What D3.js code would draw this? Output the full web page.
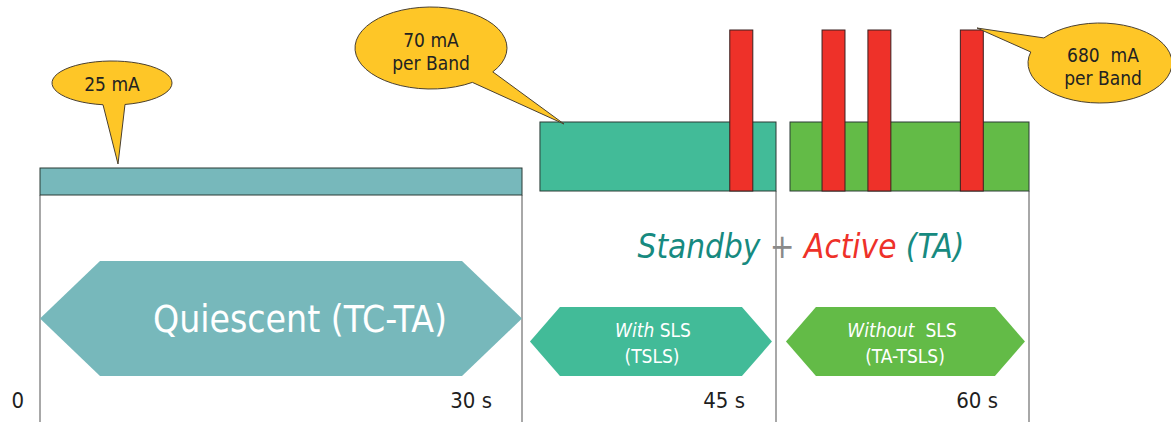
<!DOCTYPE html>
<html>
<head>
<meta charset="utf-8">
<script src="https://cdn.jsdelivr.net/npm/d3@7"></script>
<style>
  body { margin: 0; background: #fff; }
  svg { display: block; }
  text { font-family: "DejaVu Sans Condensed", "DejaVu Sans", sans-serif; font-stretch: condensed; }
</style>
</head>
<body>
<script>
var width  = 1171,
	height = 422;

// time marks (s) and their labels
var tickTimes  = [0, 30, 45, 60],
	tickLabels = ["0", "30 s", "45 s", "60 s"];

// current level bars (start s, end s, mA)
var barNames  = ["quiescent", "standby", "active"],
	barStart  = [0, 31.06, 45.83],
	barEnd    = [30, 45, 60],
	barLevel  = [25, 70, 70],
	barColors = ["#77b8bb", "#42bb98", "#63bb47"];

// transmit pulses, 680 mA per band
var pulseStart = [42.27, 47.73, 50.45, 55.93],
	pulseWidth = 1.36,
	pulseLevel = 680;

// phase arrows
var phaseStart = [0, 30.47, 45.59],
	phaseEnd   = [30, 44.76, 59.76],
	phaseColors = ["#77b8bb", "#42bb98", "#63bb47"];

// callouts
var calloutText  = [["25 mA"], ["70 mA", "per Band"], ["680\u00a0\u00a0mA", "per Band"]];

var svg = d3.select("body")
	.append("svg")
	.attr("width", width)
	.attr("height", height);

var x = d3.scaleLinear()
	.domain([0, 30, 45, 60])
	.range([40, 522, 776, 1029]);

var y = d3.scaleLinear()
	.domain([0, 25, 70, 680])
	.range([191, 168, 122, 30]);

// vertical guide lines
svg.selectAll("line.guide")
	.data(tickTimes)
	.enter().append("line")
	.attr("class", "guide")
	.attr("x1", function(d) { return x(d); })
	.attr("x2", function(d) { return x(d); })
	.attr("y1", function(d, i) { return i < 2 ? 195 : 191; })
	.attr("y2", height)
	.style("stroke", "#6e6e6e")
	.style("stroke-width", 1.2);

// level bars
svg.selectAll("rect.level")
	.data(barNames)
	.enter().append("rect")
	.attr("class", "level")
	.attr("x", function(d, i) { return x(barStart[i]); })
	.attr("width", function(d, i) { return x(barEnd[i]) - x(barStart[i]); })
	.attr("y", function(d, i) { return y(barLevel[i]); })
	.attr("height", function(d, i) { return (i == 0 ? 195 : y(0)) - y(barLevel[i]); })
	.style("fill", function(d, i) { return barColors[i]; })
	.style("stroke", "#2b3a35")
	.style("stroke-width", 1);

// pulses
svg.selectAll("rect.pulse")
	.data(pulseStart)
	.enter().append("rect")
	.attr("class", "pulse")
	.attr("x", function(d) { return x(d); })
	.attr("width", function(d) { return x(d + pulseWidth) - x(d); })
	.attr("y", y(pulseLevel))
	.attr("height", y(0) - y(pulseLevel))
	.style("fill", "#ee3129")
	.style("stroke", "#3a2020")
	.style("stroke-width", 1);

// phase arrows (hexagons)
function hexagon(x0, x1, yTop, yBot, slant) {
	var ym = (yTop + yBot) / 2;
	return "M" + x0 + "," + ym +
		"L" + (x0 + slant) + "," + yTop +
		"L" + (x1 - slant) + "," + yTop +
		"L" + x1 + "," + ym +
		"L" + (x1 - slant) + "," + yBot +
		"L" + (x0 + slant) + "," + yBot + "Z";
}

var hexTop   = [261, 307, 307],
	hexBot   = [376, 376, 376],
	hexSlant = [60, 30, 30];

svg.selectAll("path.phase")
	.data(phaseStart)
	.enter().append("path")
	.attr("class", "phase")
	.attr("d", function(d, i) {
		return hexagon(x(d), x(phaseEnd[i]), hexTop[i], hexBot[i], hexSlant[i]);
	})
	.style("fill", function(d, i) { return phaseColors[i]; });

svg.append("text")
	.attr("x", 300)
	.attr("y", 332)
	.attr("text-anchor", "middle")
	.style("font-size", "37px")
	.style("fill", "#fff")
	.text("Quiescent (TC-TA)");

var t1 = svg.append("text")
	.attr("x", 653)
	.attr("y", 337)
	.attr("text-anchor", "middle")
	.style("font-size", "19px")
	.style("fill", "#fff");
t1.append("tspan").style("font-style", "italic").text("With");
t1.append("tspan").text(" SLS");
svg.append("text")
	.attr("x", 652)
	.attr("y", 363)
	.attr("text-anchor", "middle")
	.style("font-size", "19px")
	.style("fill", "#fff")
	.text("(TSLS)");

var t2 = svg.append("text")
	.attr("x", 902)
	.attr("y", 337)
	.attr("text-anchor", "middle")
	.style("font-size", "19px")
	.style("fill", "#fff");
t2.append("tspan").style("font-style", "italic").text("Without");
t2.append("tspan").text("\u00a0\u00a0SLS");
svg.append("text")
	.attr("x", 905)
	.attr("y", 363)
	.attr("text-anchor", "middle")
	.style("font-size", "19px")
	.style("fill", "#fff")
	.text("(TA-TSLS)");

// Standby + Active (TA)
var title = svg.append("text")
	.attr("x", 801)
	.attr("y", 258)
	.attr("text-anchor", "middle")
	.style("font-size", "33px")
	.style("font-style", "italic");
title.append("tspan").style("fill", "#178a80").text("Standby ");
title.append("tspan").style("fill", "#8a8a8a").text("+ ");
title.append("tspan").style("fill", "#ee3129").text("Active ");
title.append("tspan").style("fill", "#178a80").text("(TA)");

// tick labels
var labelGap = [16, 30, 31, 31];
svg.selectAll("text.tick")
	.data(tickTimes)
	.enter().append("text")
	.attr("class", "tick")
	.attr("x", function(d, i) { return x(d) - labelGap[i]; })
	.attr("y", 408)
	.attr("text-anchor", "end")
	.style("font-size", "22px")
	.style("fill", "#1e1e1e")
	.text(function(d, i) { return tickLabels[i]; });

// callouts: ellipse + tail
var calloutCx   = [112, 431, 1100],
	calloutCy   = [83, 48, 63],
	calloutRx   = [60, 76, 72],
	calloutRy   = [22, 41, 40],
	tailAngles  = [[98.6, 77.5], [57, 35.6], [218.8, 196]],
	tailTip     = [[118, 164], [564, 124], [977, 28]],
	textY       = [[91], [47, 70], [62, 85]];

function callout(i) {
	var cx = calloutCx[i], cy = calloutCy[i], rx = calloutRx[i], ry = calloutRy[i];
	var a = tailAngles[i][0] * Math.PI / 180,
		b = tailAngles[i][1] * Math.PI / 180;
	var ax = cx + rx * Math.cos(a), ay = cy + ry * Math.sin(a),
		bx = cx + rx * Math.cos(b), by = cy + ry * Math.sin(b);
	return "M" + ax + "," + ay +
		"A" + rx + "," + ry + " 0 1 1 " + bx + "," + by +
		"L" + tailTip[i][0] + "," + tailTip[i][1] + "Z";
}

calloutText.forEach(function(lines, i) {
	svg.append("path")
		.attr("d", callout(i))
		.style("fill", "#fec627")
		.style("stroke", "#4a4030")
		.style("stroke-width", 1);
	lines.forEach(function(s, j) {
		svg.append("text")
			.attr("x", calloutCx[i] + (i == 2 ? 3 : 0))
			.attr("y", textY[i][j])
			.attr("text-anchor", "middle")
			.style("font-size", "19px")
			.style("fill", "#222")
			.text(s);
	});
});
</script>
</body>
</html>
